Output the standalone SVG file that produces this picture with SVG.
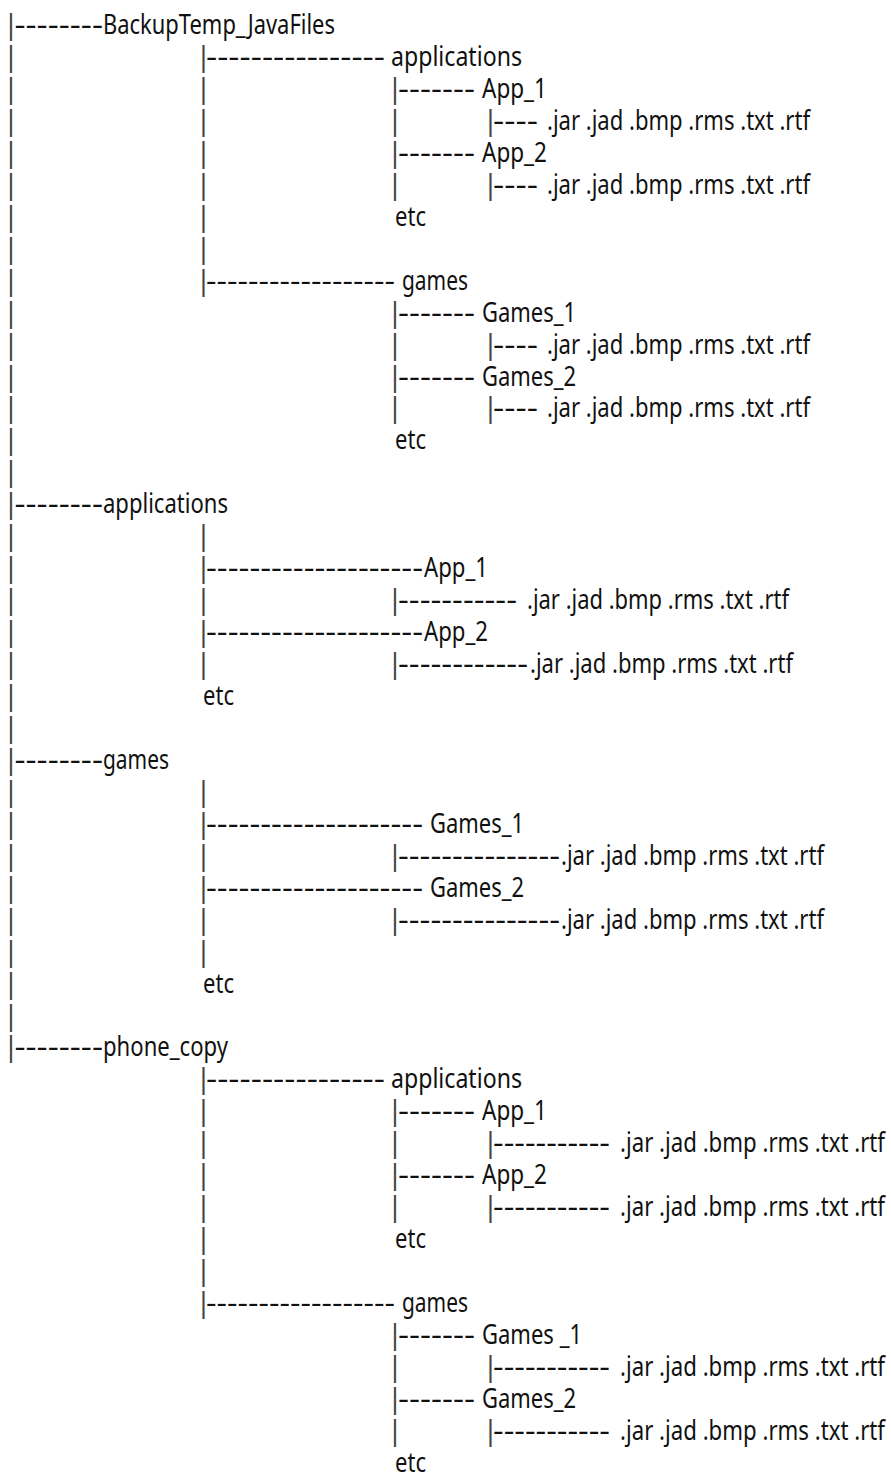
<svg xmlns="http://www.w3.org/2000/svg" width="891" height="1476" viewBox="0 0 891 1476">
<style>
text{font-family:"Noto Sans","Open Sans","DejaVu Sans",sans-serif;font-size:28px;fill:#111}
.b{text-anchor:middle;fill:#444}
</style>
<rect width="891" height="1476" fill="#fff"/>
<g id="connectors">
<g id="bars-col0">
<text class="b" x="11" y="34">|</text><text class="b" x="11" y="66">|</text><text class="b" x="11" y="97.9">|</text><text class="b" x="11" y="129.9">|</text><text class="b" x="11" y="161.8">|</text><text class="b" x="11" y="193.8">|</text><text class="b" x="11" y="225.7">|</text><text class="b" x="11" y="257.7">|</text><text class="b" x="11" y="289.6">|</text><text class="b" x="11" y="321.6">|</text><text class="b" x="11" y="353.5">|</text><text class="b" x="11" y="385.5">|</text><text class="b" x="11" y="417.4">|</text><text class="b" x="11" y="449.4">|</text><text class="b" x="11" y="481.3">|</text><text class="b" x="11" y="513.3">|</text><text class="b" x="11" y="545.2">|</text><text class="b" x="11" y="577.2">|</text><text class="b" x="11" y="609.1">|</text><text class="b" x="11" y="641.1">|</text><text class="b" x="11" y="673">|</text><text class="b" x="11" y="705">|</text><text class="b" x="11" y="736.9">|</text><text class="b" x="11" y="768.9">|</text><text class="b" x="11" y="800.8">|</text><text class="b" x="11" y="832.8">|</text><text class="b" x="11" y="864.7">|</text><text class="b" x="11" y="896.7">|</text><text class="b" x="11" y="928.6">|</text><text class="b" x="11" y="960.6">|</text><text class="b" x="11" y="992.5">|</text><text class="b" x="11" y="1024.5">|</text><text class="b" x="11" y="1056.4">|</text>
</g>
<g id="bars-col1">
<text class="b" x="203.5" y="66">|</text><text class="b" x="203.5" y="97.9">|</text><text class="b" x="203.5" y="129.9">|</text><text class="b" x="203.5" y="161.8">|</text><text class="b" x="203.5" y="193.8">|</text><text class="b" x="203.5" y="225.7">|</text><text class="b" x="203.5" y="257.7">|</text><text class="b" x="203.5" y="289.6">|</text>
<text class="b" x="203.5" y="545.2">|</text><text class="b" x="203.5" y="577.2">|</text><text class="b" x="203.5" y="609.1">|</text><text class="b" x="203.5" y="641.1">|</text><text class="b" x="203.5" y="673">|</text>
<text class="b" x="203.5" y="800.8">|</text><text class="b" x="203.5" y="832.8">|</text><text class="b" x="203.5" y="864.7">|</text><text class="b" x="203.5" y="896.7">|</text><text class="b" x="203.5" y="928.6">|</text><text class="b" x="203.5" y="960.6">|</text>
<text class="b" x="203.5" y="1088.4">|</text><text class="b" x="203.5" y="1120.3">|</text><text class="b" x="203.5" y="1152.3">|</text><text class="b" x="203.5" y="1184.2">|</text><text class="b" x="203.5" y="1216.2">|</text><text class="b" x="203.5" y="1248.1">|</text><text class="b" x="203.5" y="1280.1">|</text><text class="b" x="203.5" y="1312">|</text>
</g>
<g id="bars-col2">
<text class="b" x="395" y="97.9">|</text><text class="b" x="395" y="129.9">|</text><text class="b" x="395" y="161.8">|</text><text class="b" x="395" y="193.8">|</text>
<text class="b" x="395" y="321.6">|</text><text class="b" x="395" y="353.5">|</text><text class="b" x="395" y="385.5">|</text><text class="b" x="395" y="417.4">|</text>
<text class="b" x="395" y="609.1">|</text><text class="b" x="395" y="673">|</text>
<text class="b" x="395" y="864.7">|</text><text class="b" x="395" y="928.6">|</text>
<text class="b" x="395" y="1120.3">|</text><text class="b" x="395" y="1152.3">|</text><text class="b" x="395" y="1184.2">|</text><text class="b" x="395" y="1216.2">|</text>
<text class="b" x="395" y="1344">|</text><text class="b" x="395" y="1375.9">|</text><text class="b" x="395" y="1407.9">|</text><text class="b" x="395" y="1439.8">|</text>
</g>
<g id="bars-col3">
<text class="b" x="490.5" y="129.9">|</text><text class="b" x="490.5" y="193.8">|</text><text class="b" x="490.5" y="353.5">|</text><text class="b" x="490.5" y="417.4">|</text>
<text class="b" x="490.5" y="1152.3">|</text><text class="b" x="490.5" y="1216.2">|</text><text class="b" x="490.5" y="1375.9">|</text><text class="b" x="490.5" y="1439.8">|</text>
</g>
<g id="dashes">
<text x="14.5" y="34" textLength="88.5" lengthAdjust="spacingAndGlyphs">--------</text>
<text x="206" y="66" textLength="179" lengthAdjust="spacingAndGlyphs">----------------</text>
<text x="398" y="97.9" textLength="77" lengthAdjust="spacingAndGlyphs">-------</text>
<text x="493" y="129.9" textLength="45" lengthAdjust="spacingAndGlyphs">----</text>
<text x="398" y="161.8" textLength="77" lengthAdjust="spacingAndGlyphs">-------</text>
<text x="493" y="193.8" textLength="45" lengthAdjust="spacingAndGlyphs">----</text>
<text x="206" y="289.6" textLength="189" lengthAdjust="spacingAndGlyphs">------------------</text>
<text x="398" y="321.6" textLength="77" lengthAdjust="spacingAndGlyphs">-------</text>
<text x="493" y="353.5" textLength="45" lengthAdjust="spacingAndGlyphs">----</text>
<text x="398" y="385.5" textLength="77" lengthAdjust="spacingAndGlyphs">-------</text>
<text x="493" y="417.4" textLength="45" lengthAdjust="spacingAndGlyphs">----</text>
<text x="14.5" y="513.3" textLength="88.5" lengthAdjust="spacingAndGlyphs">--------</text>
<text x="206" y="577.2" textLength="217" lengthAdjust="spacingAndGlyphs">--------------------</text>
<text x="398" y="609.1" textLength="119" lengthAdjust="spacingAndGlyphs">-----------</text>
<text x="206" y="641.1" textLength="217" lengthAdjust="spacingAndGlyphs">--------------------</text>
<text x="398" y="673" textLength="130" lengthAdjust="spacingAndGlyphs">------------</text>
<text x="14.5" y="768.9" textLength="88.5" lengthAdjust="spacingAndGlyphs">--------</text>
<text x="206" y="832.8" textLength="217" lengthAdjust="spacingAndGlyphs">--------------------</text>
<text x="398" y="864.7" textLength="162" lengthAdjust="spacingAndGlyphs">---------------</text>
<text x="206" y="896.7" textLength="217" lengthAdjust="spacingAndGlyphs">--------------------</text>
<text x="398" y="928.6" textLength="162" lengthAdjust="spacingAndGlyphs">---------------</text>
<text x="14.5" y="1056.4" textLength="88.5" lengthAdjust="spacingAndGlyphs">--------</text>
<text x="206" y="1088.4" textLength="179" lengthAdjust="spacingAndGlyphs">----------------</text>
<text x="398" y="1120.3" textLength="77" lengthAdjust="spacingAndGlyphs">-------</text>
<text x="493" y="1152.3" textLength="117" lengthAdjust="spacingAndGlyphs">-----------</text>
<text x="398" y="1184.2" textLength="77" lengthAdjust="spacingAndGlyphs">-------</text>
<text x="493" y="1216.2" textLength="117" lengthAdjust="spacingAndGlyphs">-----------</text>
<text x="206" y="1312" textLength="189" lengthAdjust="spacingAndGlyphs">------------------</text>
<text x="398" y="1344" textLength="77" lengthAdjust="spacingAndGlyphs">-------</text>
<text x="493" y="1375.9" textLength="117" lengthAdjust="spacingAndGlyphs">-----------</text>
<text x="398" y="1407.9" textLength="77" lengthAdjust="spacingAndGlyphs">-------</text>
<text x="493" y="1439.8" textLength="117" lengthAdjust="spacingAndGlyphs">-----------</text>
</g>
</g>
<g id="backup">
<text x="103" y="34" textLength="232" lengthAdjust="spacingAndGlyphs">BackupTemp_JavaFiles</text>
</g>
<g id="backup-applications">
<text x="391" y="66" textLength="131" lengthAdjust="spacingAndGlyphs">applications</text>
</g>
<g id="backup-app1"><text x="482" y="97.9" textLength="65" lengthAdjust="spacingAndGlyphs">App_1</text></g>
<g id="backup-app1-files"><text x="547" y="129.9" textLength="263" lengthAdjust="spacingAndGlyphs">.jar .jad .bmp .rms .txt .rtf</text></g>
<g id="backup-app2"><text x="482" y="161.8" textLength="65" lengthAdjust="spacingAndGlyphs">App_2</text></g>
<g id="backup-app2-files"><text x="547" y="193.8" textLength="263" lengthAdjust="spacingAndGlyphs">.jar .jad .bmp .rms .txt .rtf</text></g>
<g id="backup-apps-etc"><text x="395" y="225.7" textLength="31" lengthAdjust="spacingAndGlyphs">etc</text></g>
<g id="backup-games"><text x="402" y="289.6" textLength="66" lengthAdjust="spacingAndGlyphs">games</text></g>
<g id="backup-games1"><text x="482" y="321.6" textLength="94" lengthAdjust="spacingAndGlyphs">Games_1</text></g>
<g id="backup-games1-files"><text x="547" y="353.5" textLength="263" lengthAdjust="spacingAndGlyphs">.jar .jad .bmp .rms .txt .rtf</text></g>
<g id="backup-games2"><text x="482" y="385.5" textLength="94" lengthAdjust="spacingAndGlyphs">Games_2</text></g>
<g id="backup-games2-files"><text x="547" y="417.4" textLength="263" lengthAdjust="spacingAndGlyphs">.jar .jad .bmp .rms .txt .rtf</text></g>
<g id="backup-games-etc"><text x="395" y="449.4" textLength="31" lengthAdjust="spacingAndGlyphs">etc</text></g>
<g id="applications"><text x="103" y="513.3" textLength="125" lengthAdjust="spacingAndGlyphs">applications</text></g>
<g id="applications-app1"><text x="424" y="577.2" textLength="64" lengthAdjust="spacingAndGlyphs">App_1</text></g>
<g id="applications-app1-files"><text x="527" y="609.1" textLength="262" lengthAdjust="spacingAndGlyphs">.jar .jad .bmp .rms .txt .rtf</text></g>
<g id="applications-app2"><text x="424" y="641.1" textLength="64" lengthAdjust="spacingAndGlyphs">App_2</text></g>
<g id="applications-app2-files"><text x="530" y="673" textLength="263" lengthAdjust="spacingAndGlyphs">.jar .jad .bmp .rms .txt .rtf</text></g>
<g id="applications-etc"><text x="203" y="705" textLength="31" lengthAdjust="spacingAndGlyphs">etc</text></g>
<g id="games"><text x="103" y="768.9" textLength="66" lengthAdjust="spacingAndGlyphs">games</text></g>
<g id="games-games1"><text x="430" y="832.8" textLength="94" lengthAdjust="spacingAndGlyphs">Games_1</text></g>
<g id="games-games1-files"><text x="561" y="864.7" textLength="263" lengthAdjust="spacingAndGlyphs">.jar .jad .bmp .rms .txt .rtf</text></g>
<g id="games-games2"><text x="430" y="896.7" textLength="94" lengthAdjust="spacingAndGlyphs">Games_2</text></g>
<g id="games-games2-files"><text x="561" y="928.6" textLength="263" lengthAdjust="spacingAndGlyphs">.jar .jad .bmp .rms .txt .rtf</text></g>
<g id="games-etc"><text x="203" y="992.5" textLength="31" lengthAdjust="spacingAndGlyphs">etc</text></g>
<g id="phone-copy"><text x="103" y="1056.4" textLength="125" lengthAdjust="spacingAndGlyphs">phone_copy</text></g>
<g id="phone-applications"><text x="391" y="1088.4" textLength="131" lengthAdjust="spacingAndGlyphs">applications</text></g>
<g id="phone-app1"><text x="482" y="1120.3" textLength="65" lengthAdjust="spacingAndGlyphs">App_1</text></g>
<g id="phone-app1-files"><text x="620" y="1152.3" textLength="265" lengthAdjust="spacingAndGlyphs">.jar .jad .bmp .rms .txt .rtf</text></g>
<g id="phone-app2"><text x="482" y="1184.2" textLength="65" lengthAdjust="spacingAndGlyphs">App_2</text></g>
<g id="phone-app2-files"><text x="620" y="1216.2" textLength="265" lengthAdjust="spacingAndGlyphs">.jar .jad .bmp .rms .txt .rtf</text></g>
<g id="phone-apps-etc"><text x="395" y="1248.1" textLength="31" lengthAdjust="spacingAndGlyphs">etc</text></g>
<g id="phone-games"><text x="402" y="1312" textLength="66" lengthAdjust="spacingAndGlyphs">games</text></g>
<g id="phone-games1"><text x="482" y="1344" textLength="100" lengthAdjust="spacingAndGlyphs">Games _1</text></g>
<g id="phone-games1-files"><text x="620" y="1375.9" textLength="265" lengthAdjust="spacingAndGlyphs">.jar .jad .bmp .rms .txt .rtf</text></g>
<g id="phone-games2"><text x="482" y="1407.9" textLength="94" lengthAdjust="spacingAndGlyphs">Games_2</text></g>
<g id="phone-games2-files"><text x="620" y="1439.8" textLength="265" lengthAdjust="spacingAndGlyphs">.jar .jad .bmp .rms .txt .rtf</text></g>
<g id="phone-games-etc"><text x="395" y="1471.8" textLength="31" lengthAdjust="spacingAndGlyphs">etc</text></g>
</svg>
